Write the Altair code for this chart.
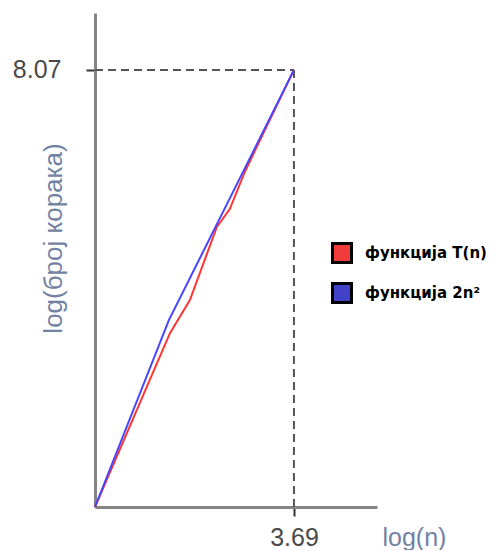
import altair as alt
import pandas as pd

# --- data ---
red_x = [0.0, 1.39, 1.76, 2.26, 2.50, 2.78, 3.69]
red_y = [0.0, 3.21, 3.82, 5.17, 5.50, 6.19, 8.07]
blue_x = [0.0, 1.37, 2.27, 3.69]
blue_y = [0.0, 3.45, 5.24, 8.07]
series_names = ["функција T(n)", "функција 2n²"]
line_colors = ["#ff3535", "#4545ff"]
legend_colors = ["#f23c3c", "#4242c8"]
x_tick = [3.69]
y_tick = [8.07]
x_max = 5.23
y_max = 9.12

rows = []
for xv, yv in zip(red_x, red_y):
    rows.append({"x": xv, "y": yv, "s": series_names[0]})
for xv, yv in zip(blue_x, blue_y):
    rows.append({"x": xv, "y": yv, "s": series_names[1]})
df = pd.DataFrame(rows)

guides = pd.DataFrame({
    "x": [0.0, x_tick[0]],
    "x2": [x_tick[0], x_tick[0]],
    "y": [y_tick[0], 0.0],
    "y2": [y_tick[0], y_tick[0]],
})

label_font = "Liberation Sans"
title_color = "#7282a2"

xscale = alt.Scale(domain=[0, x_max], nice=False, zero=False)
yscale = alt.Scale(domain=[0, y_max], nice=False, zero=False)

xaxis = alt.Axis(
    values=x_tick, format=".2f", grid=False,
    domainColor="#858585", domainWidth=3,
    tickColor="#333", tickWidth=2, tickSize=9,
    labelFont=label_font, labelFontSize=25, labelColor="#4a4a4a", labelPadding=9,
    title="log(n)", titleFont=label_font, titleFontSize=25, titleFontWeight="normal",
    titleColor=title_color, titleX=287, titleY=30, titleAlign="left", titleBaseline="middle",
)
yaxis = alt.Axis(
    values=y_tick, format=".2f", grid=False,
    domainColor="#858585", domainWidth=3,
    tickColor="#333", tickWidth=2, tickSize=9,
    labelFont=label_font, labelFontSize=25, labelColor="#4a4a4a", labelPadding=25,
    title="log(број корака)", titleFont=label_font, titleFontSize=26, titleFontWeight="normal",
    titleColor=title_color, titleX=-42, titleY=225, titleAngle=270,
    titleAlign="center", titleBaseline="middle",
)

rules = alt.Chart(guides).mark_rule(color="#555", strokeWidth=2, strokeDash=[8, 5]).encode(
    x=alt.X("x:Q", scale=xscale, axis=xaxis),
    x2="x2:Q",
    y=alt.Y("y:Q", scale=yscale, axis=yaxis),
    y2="y2:Q",
)

# line colours: domain listed in reverse order so this (legend-less) scale is not merged with the legend one
lines = alt.Chart(df).mark_line(strokeWidth=2).encode(
    x=alt.X("x:Q", scale=xscale),
    y=alt.Y("y:Q", scale=yscale),
    stroke=alt.Stroke(
        "s:N",
        scale=alt.Scale(domain=series_names[::-1], range=line_colors[::-1]),
        legend=None,
    ),
    order=alt.Order("x:Q"),
)

squares = alt.Chart(df).mark_square(size=0, opacity=1).encode(
    x=alt.X("x:Q", scale=xscale),
    y=alt.Y("y:Q", scale=yscale),
    fill=alt.Fill(
        "s:N",
        scale=alt.Scale(domain=series_names, range=legend_colors),
        legend=alt.Legend(
            title=None, orient="none", legendX=236, legendY=229,
            symbolType="square", symbolSize=361, symbolStrokeColor="#000",
            symbolStrokeWidth=3, symbolOpacity=1,
            labelFont="DejaVu Sans", labelFontWeight="bold", labelFontSize=15,
            labelColor="#000", labelOffset=12, rowPadding=8, padding=0,
        ),
    ),
)

chart = alt.layer(rules, lines, squares).properties(
    width=282, height=494,
    autosize=alt.AutoSizeParams(type="none"),
    padding={"left": 87, "top": 5, "right": 110, "bottom": 43},
).configure_view(stroke=None)

chart.save("out.html", embed_options={"renderer": "svg", "actions": False})
